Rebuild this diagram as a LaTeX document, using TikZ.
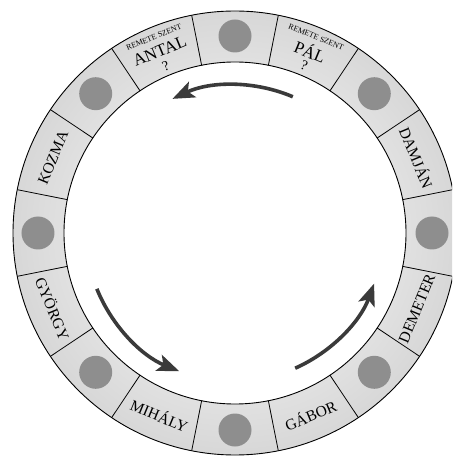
\documentclass[tikz,border=0pt]{standalone}
\usepackage{fontspec}
\setmainfont{Liberation Serif}
\usepackage{xcolor}
\usepackage{tikz}
\usetikzlibrary{arrows.meta}
\definecolor{bandedge}{HTML}{C2C2C2}
\definecolor{bandmid}{HTML}{DCDCDC}
\definecolor{dotfill}{HTML}{8E8E8E}
\definecolor{arrowgray}{HTML}{3A3A3A}
\pgfdeclareradialshading{band}{\pgfpoint{0bp}{0bp}}{color(0bp)=(white); color(38.4bp)=(bandedge); color(44.2bp)=(bandmid); color(50bp)=(bandedge)}

\begin{document}
\begin{tikzpicture}[
  x=1pt,y=1pt,
  ring/.style={draw=black,line width=0.9pt},
  spoke/.style={draw=black,line width=0.8pt},
  dot/.style={circle,fill=dotfill,minimum size=33pt,inner sep=0pt},
  saint/.style={font=\fontsize{15.5}{16}\selectfont,inner sep=0pt},
  bigsaint/.style={font=\fontsize{17}{17}\selectfont,inner sep=0pt},
  tiny/.style={font=\fontsize{8}{8}\selectfont,inner sep=0pt},
  qmark/.style={font=\fontsize{14}{14}\selectfont,inner sep=0pt},
  arr/.style={-{Stealth[length=22pt,width=17pt,inset=5pt]},draw=arrowgray,line width=3.6pt}
]
\useasboundingbox (-235,-224) rectangle (217,233);
\clip (-235,-224) rectangle (217,233);

% --- ring
\shade[shading=band,even odd rule] (0,0) circle[radius=222] (0,0) circle[radius=171];
\draw[ring] (0,0) circle[radius=222];
\draw[ring] (0,0) circle[radius=171];
\foreach \a in {11.25,33.75,...,360}
  \draw[spoke] (\a:171) -- (\a:222);

% --- empty places
\foreach \a in {0,45,...,315}
  \node[dot] (dot\a) at (\a:197) {};

% --- names
\node[saint,rotate=-67.5] (damjan)  at (22.5:197)  {DAMJÁN};
\node[saint,rotate=67.5]  (kozma)   at (157.5:197) {KOZMA};
\node[saint,rotate=-67.5] (gyorgy)  at (202.5:197) {GYÖRGY};
\node[saint,rotate=-22.5] (mihaly)  at (247.5:197) {MIHÁLY};
\node[saint,rotate=22.5]  (gabor)   at (292.5:197) {GÁBOR};
\node[saint,rotate=67.5]  (demeter) at (337.5:197) {DEMETER};

% --- hermits
\node[tiny,rotate=-22.5]     (pal-t)   at (67.5:212)  {REMETE SZENT};
\node[bigsaint,rotate=-22.5] (pal)     at (67.5:197)  {PÁL};
\node[qmark,rotate=-22.5]    (pal-q)   at (67.5:181)  {?};
\node[tiny,rotate=22.5]      (antal-t) at (112.5:212) {REMETE SZENT};
\node[bigsaint,rotate=22.5]  (antal)   at (112.5:197) {ANTAL};
\node[qmark,rotate=22.5]     (antal-q) at (112.5:181) {?};

% --- direction
\coordinate (top-s)   at (67:148);
\coordinate (left-s)  at (202:149);
\coordinate (right-s) at (294:148);
\draw[arr] (top-s)   arc[start angle=67,end angle=115,radius=148];
\draw[arr] (left-s)  arc[start angle=202,end angle=248,radius=149];
\draw[arr] (right-s) arc[start angle=294,end angle=340,radius=148];
\end{tikzpicture}
\end{document}
